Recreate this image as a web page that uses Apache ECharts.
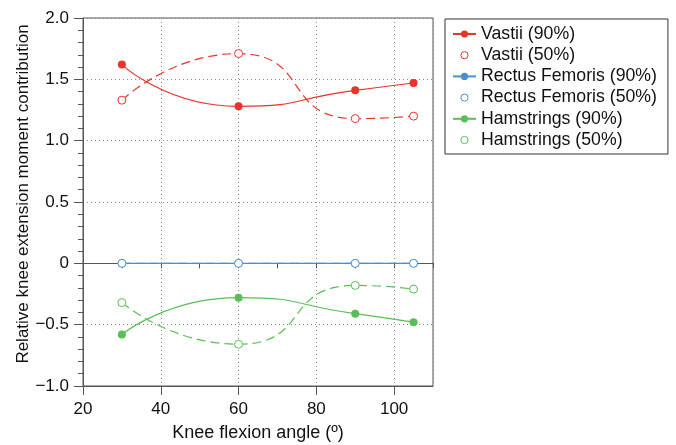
<!DOCTYPE html>
<html>
<head>
<meta charset="utf-8">
<script src="https://cdn.jsdelivr.net/npm/echarts@6/dist/echarts.min.js"></script>
<style>
  html, body { margin: 0; padding: 0; background: #fff; }
  #chart { width: 676px; height: 445px; }
</style>
</head>
<body>
<div id="chart"></div>
<script>
// knee flexion angles (deg)
const angles = [30, 60, 90, 105];

// relative knee extension moment contribution
const vastii90 = [1.62, 1.28, 1.41, 1.47];
const vastii50 = [1.33, 1.71, 1.18, 1.20];
const rectus90 = [0, 0, 0, 0];
const rectus50 = [0, 0, 0, 0];
const hams90 = [-0.58, -0.28, -0.41, -0.48];
const hams50 = [-0.32, -0.66, -0.18, -0.21];

const RED = "#e8342b";
const BLUE = "#4a8fcd";
const GREEN = "#5bbd57";
const FONT = "'Liberation Sans', Arial, Helvetica, sans-serif";

const pairs = (ys) => angles.map((x, i) => [x, ys[i]]);

const solid = (name, ys, color) => ({
  name,
  type: "line",
  data: pairs(ys),
  smooth: 0.6,
  symbol: "circle",
  symbolSize: 8,
  itemStyle: { color },
  lineStyle: { color, width: 1.2 },
});

const dashed = (name, ys, color) => ({
  name,
  type: "line",
  data: pairs(ys),
  smooth: 0.6,
  symbol: "circle",
  symbolSize: 8,
  itemStyle: { color: "#fff", borderColor: color, borderWidth: 1 },
  lineStyle: { color, width: 1.2, type: [9, 5] },
});

const hollowLegend = (name, color) => ({
  name,
  itemStyle: { color: "#fff", borderColor: color, borderWidth: 1 },
  lineStyle: { opacity: 0 },
});

const chart = echarts.init(document.getElementById("chart"), null, { renderer: "canvas" });

chart.setOption({
  animation: false,
  textStyle: { fontFamily: FONT },
  grid: {
    left: 83, right: 243, top: 18, bottom: 59,
    containLabel: false,
    outerBoundsMode: "none",
    show: true, borderColor: "#555", borderWidth: 1,
  },
  legend: {
    orient: "vertical",
    left: 445, top: 19,
    padding: [6, 11, 5, 7],
    itemGap: 3.2,
    itemWidth: 23,
    itemHeight: 9,
    borderColor: "#333",
    borderWidth: 1,
    textStyle: { fontSize: 17.7, color: "#111", fontFamily: FONT, lineHeight: 17 },
    data: [
      { name: "Vastii (90%)" },
      hollowLegend("Vastii (50%)", RED),
      { name: "Rectus Femoris (90%)" },
      hollowLegend("Rectus Femoris (50%)", BLUE),
      { name: "Hamstrings (90%)" },
      hollowLegend("Hamstrings (50%)", GREEN),
    ],
  },
  xAxis: [
    {
      // minor ticks every 10
      type: "value", min: 20, max: 110, interval: 10, position: "bottom",
      axisLine: { show: true, lineStyle: { color: "#555" } },
      axisTick: { show: true, length: 5, lineStyle: { color: "#555" } },
      axisLabel: { show: false },
      splitLine: { show: false },
    },
    {
      type: "value", min: 20, max: 110, interval: 20, position: "bottom", offset: 0,
      name: "Knee flexion angle (º)",
      nameLocation: "middle",
      nameGap: 38,
      nameMoveOverlap: false,
      nameTextStyle: { fontSize: 18, color: "#111", fontFamily: FONT },
      axisLine: { show: true, lineStyle: { color: "#555" } },
      axisTick: { show: true, length: 9, lineStyle: { color: "#555" } },
      axisLabel: { fontSize: 17, color: "#111", margin: 15, showMaxLabel: false, fontFamily: FONT },
      splitLine: { show: true, lineStyle: { color: "#888", type: [1, 3], width: 1 } },
    },
  ],
  yAxis: {
    type: "value", min: -1, max: 2, interval: 0.5,
    name: "Relative knee extension moment contribution",
    nameLocation: "middle",
    nameGap: 51,
    nameMoveOverlap: false,
    nameTextStyle: { fontSize: 17, color: "#111", fontFamily: FONT, padding: [0, 0, 0, 16] },
    axisLine: { show: true, lineStyle: { color: "#555" } },
    axisTick: { show: true, length: 9, lineStyle: { color: "#555" } },
    minorTick: { show: true, splitNumber: 5, length: 5, lineStyle: { color: "#555" } },
    axisLabel: {
      fontSize: 17, color: "#111", margin: 14, fontFamily: FONT,
      formatter: (v) => (v === 0 ? "0" : v.toFixed(1).replace("-", "\u2212")),
    },
    splitLine: { show: true, lineStyle: { color: "#888", type: [1, 3], width: 1 } },
  },
  series: [
    solid("Vastii (90%)", vastii90, RED),
    dashed("Vastii (50%)", vastii50, RED),
    solid("Rectus Femoris (90%)", rectus90, BLUE),
    dashed("Rectus Femoris (50%)", rectus50, BLUE),
    solid("Hamstrings (90%)", hams90, GREEN),
    dashed("Hamstrings (50%)", hams50, GREEN),
  ],
});
</script>
</body>
</html>
